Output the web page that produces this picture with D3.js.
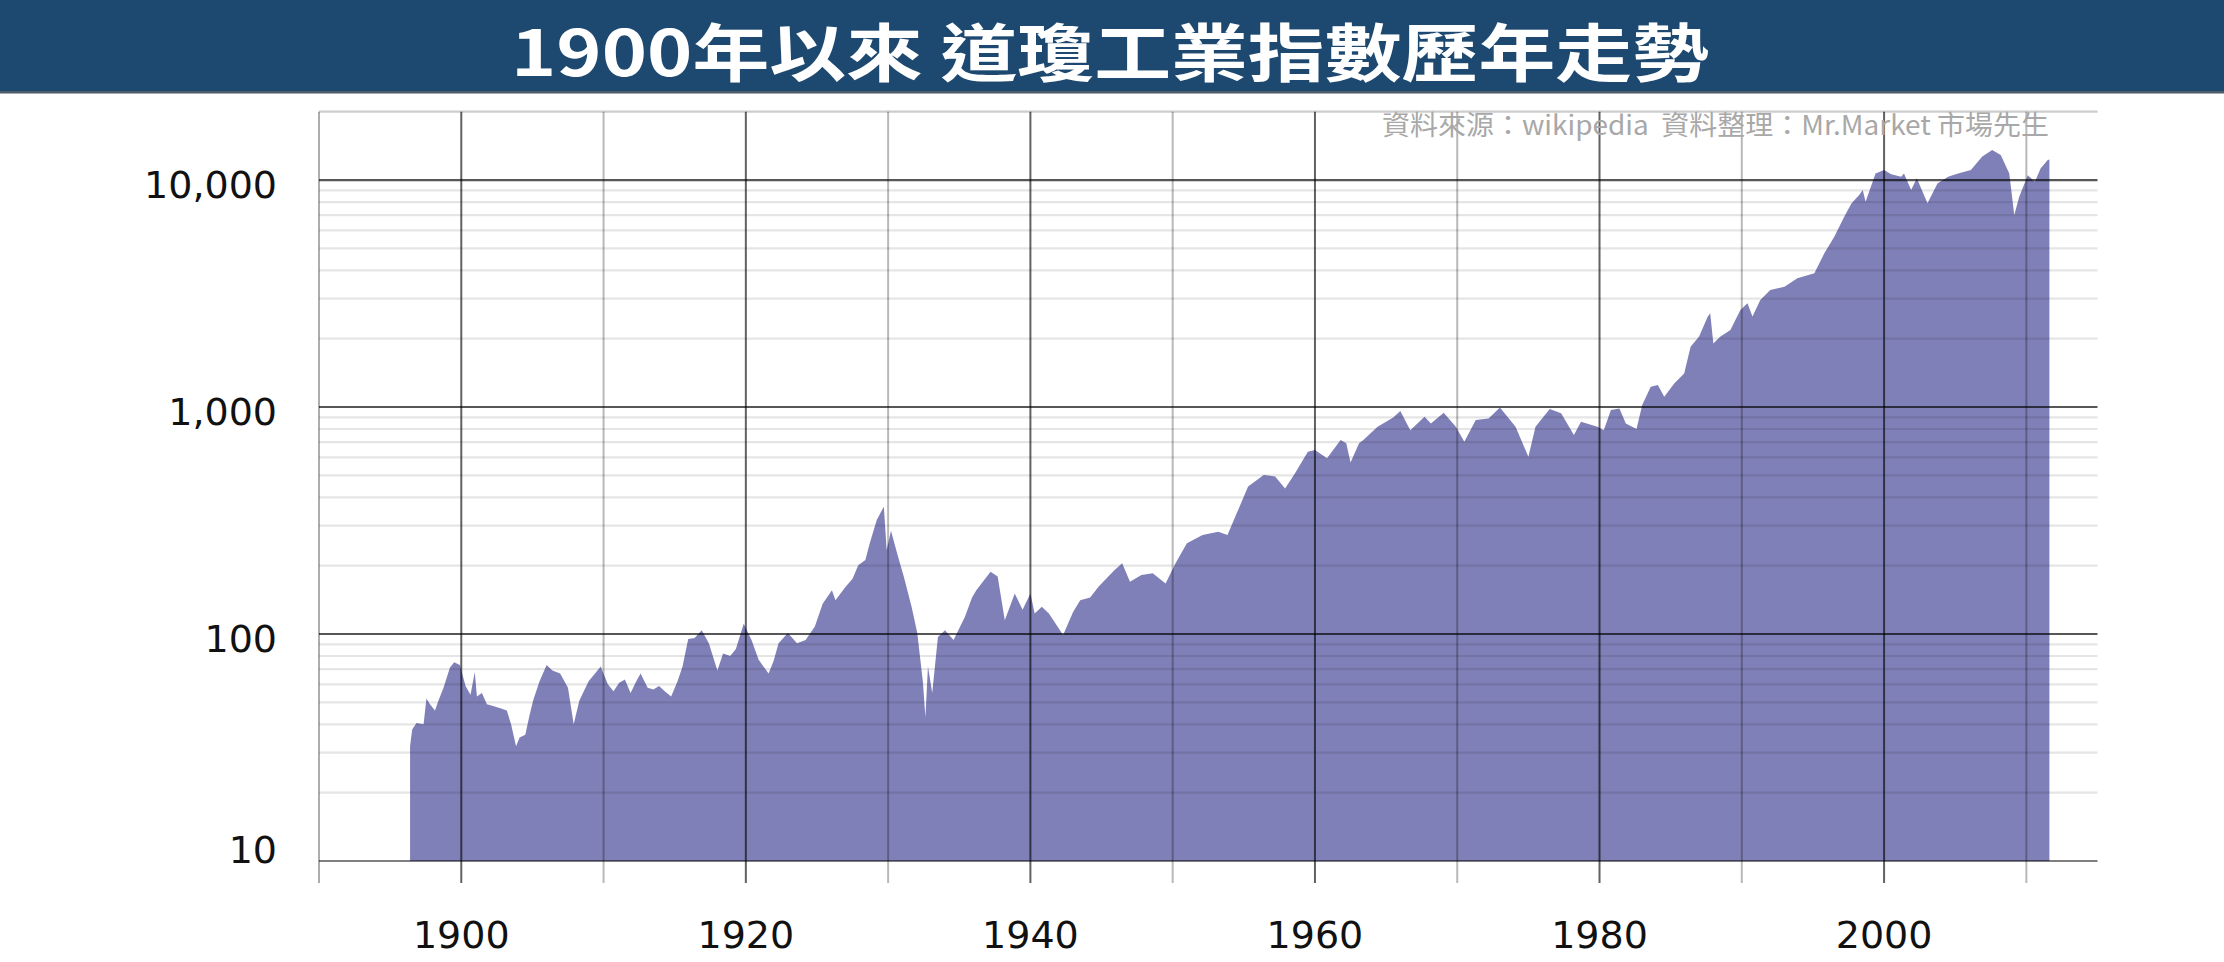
<!DOCTYPE html>
<html>
<head>
<meta charset="utf-8">
<script src="https://cdn.jsdelivr.net/npm/d3@7"></script>
<style>
  html, body { margin: 0; padding: 0; background: #fff; }
  svg { display: block; }
</style>
</head>
<body>
<script>
// ---------------- DATA ----------------
const titleText = "1900年以來 道瓊工業指數歷年走勢";
const sourceText = "資料來源：wikipedia  資料整理：Mr.Market 市場先生";

const years = [
  1896.40, 1896.55, 1896.85, 1897.35, 1897.55, 1897.80, 1898.15, 1898.40, 1898.75, 1899.20,
  1899.50, 1899.90, 1900.30, 1900.65, 1900.95, 1901.10, 1901.45, 1901.80, 1902.30, 1902.80,
  1903.20, 1903.50, 1903.85, 1904.10, 1904.50, 1904.80, 1905.05, 1905.50, 1906.00, 1906.40,
  1906.95, 1907.50, 1907.90, 1908.30, 1908.95, 1909.40, 1909.80, 1910.30, 1910.70, 1911.10,
  1911.50, 1911.90, 1912.30, 1912.60, 1913.10, 1913.50, 1913.90, 1914.30, 1914.75, 1915.20,
  1915.55, 1915.95, 1916.40, 1916.90, 1917.40, 1918.00, 1918.40, 1918.90, 1919.30, 1919.85,
  1920.40, 1920.90, 1921.60, 1921.95, 1922.30, 1922.95, 1923.60, 1924.20, 1924.85, 1925.40,
  1926.05, 1926.30, 1927.00, 1927.50, 1927.90, 1928.40, 1928.70, 1929.20, 1929.70, 1929.90,
  1930.20, 1930.70, 1931.10, 1931.65, 1932.05, 1932.45, 1932.62, 1932.80, 1933.10, 1933.50,
  1934.00, 1934.60, 1935.40, 1935.90, 1936.20, 1937.20, 1937.70, 1938.20, 1938.90, 1939.45,
  1940.00, 1940.30, 1940.80, 1941.30, 1942.30, 1943.00, 1943.50, 1944.20, 1944.80, 1945.90,
  1946.45, 1947.00, 1947.80, 1948.60, 1949.50, 1950.20, 1951.00, 1952.10, 1953.20, 1953.85,
  1954.50, 1955.30, 1956.40, 1957.20, 1957.90, 1958.60, 1959.50, 1960.00, 1960.85, 1961.80,
  1962.20, 1962.50, 1963.10, 1963.40, 1964.40, 1965.50, 1966.00, 1966.70, 1967.70, 1968.15,
  1969.05, 1969.90, 1970.50, 1971.30, 1972.20, 1973.00, 1974.10, 1975.00, 1975.50, 1976.50,
  1977.30, 1978.20, 1978.70, 1979.85, 1980.30, 1980.80, 1981.40, 1981.85, 1982.60, 1983.00,
  1983.60, 1984.10, 1984.55, 1985.25, 1985.95, 1986.40, 1987.00, 1987.60, 1987.78, 1988.00,
  1988.50, 1989.20, 1989.90, 1990.40, 1990.75, 1991.30, 1992.00, 1993.00, 1993.90, 1995.10,
  1995.80, 1996.50, 1997.20, 1997.70, 1998.25, 1998.50, 1998.70, 1999.40, 2000.00, 2000.50,
  2001.20, 2001.40, 2001.90, 2002.30, 2003.05, 2003.75, 2004.50, 2005.20, 2006.10, 2006.90,
  2007.60, 2008.20, 2008.80, 2009.15, 2009.50, 2010.10, 2010.60, 2011.00, 2011.50, 2011.62
];

const dowValues = [
  32, 38, 40.5, 40, 52, 49, 46, 51, 58, 71,
  75, 73, 59, 54, 68, 53, 55, 49, 48, 47,
  46, 40, 32, 35, 36, 44, 51, 62, 73, 69,
  67, 58, 40, 51, 62, 67, 72, 60, 56, 61,
  63, 55, 62, 67, 58, 57, 59, 56, 53, 62,
  72, 95, 96, 104, 91, 69, 82, 80, 86, 111,
  94, 77, 67, 76, 91, 101, 91, 94, 108, 136,
  156, 141, 161, 175, 201, 212, 250, 318, 364, 234,
  285, 219, 179, 132, 101, 61, 43, 72, 55, 97,
  104, 94, 119, 145, 156, 188, 179, 115, 151, 128,
  151, 123, 132, 123, 99, 125, 141, 145, 162, 191,
  205, 170, 182, 185, 167, 205, 251, 273, 282, 273,
  340, 446, 502, 494, 438, 511, 636, 647, 594, 716,
  692, 570, 692, 716, 819, 900, 960, 791, 906, 847,
  944, 819, 703, 876, 891, 996, 819, 604, 819, 980,
  938, 752, 861, 818, 790, 970, 986, 847, 800, 1021,
  1228, 1250, 1110, 1271, 1406, 1845, 2043, 2500, 2590, 1907,
  2043, 2183, 2675, 2862, 2502, 2960, 3275, 3388, 3690, 3882,
  4755, 5630, 6890, 7890, 8590, 9040, 8020, 10690, 11060, 10600,
  10330, 10690, 9040, 10170, 7900, 9660, 10340, 10690, 11060, 12680,
  13560, 12880, 10690, 7010, 8440, 10510, 9820, 11250, 12250, 12300
];

const yTickValues = [10, 100, 1000, 10000];
const yTickLabels = ["10", "100", "1,000", "10,000"];
const xGridYears = [1890, 1900, 1910, 1920, 1930, 1940, 1950, 1960, 1970, 1980, 1990, 2000, 2010];
const xTickLabels = ["1900", "1920", "1940", "1960", "1980", "2000"];

// ---------------- LAYOUT ----------------
const W = 2224, H = 962;
const plotLeft = 319, plotRight = 2097.5;
const yTop = 111.7, yBottom = 861;
const tickBottom = 883;

const svg = d3.select("body").append("svg")
  .attr("width", W).attr("height", H)
  .attr("viewBox", `0 0 ${W} ${H}`);

svg.append("rect").attr("width", W).attr("height", H).attr("fill", "#fff");

// Title bar
svg.append("rect").attr("x", 0).attr("y", 0).attr("width", W).attr("height", 91)
  .attr("fill", "#1d4870");
svg.append("rect").attr("x", 0).attr("y", 91).attr("width", W).attr("height", 2.5)
  .attr("fill", "#4d5b6b");
svg.append("text")
  .attr("x", 1110).attr("y", 76)
  .attr("text-anchor", "middle")
  .attr("font-family", "'Noto Sans CJK TC', 'Noto Sans CJK SC', sans-serif")
  .attr("font-weight", 700)
  .attr("font-size", 63)
  .attr("fill", "#ffffff")
  .attr("textLength", 1198)
  .attr("lengthAdjust", "spacingAndGlyphs")
  .text(titleText);

// Scales
const x = d3.scaleLinear().domain([1890, 2015]).range([plotLeft, plotRight]);
const y = d3.scaleLog().domain([10, 20000]).range([yBottom, yTop]);

const data = years.map((yr, i) => ({ yr, v: dowValues[i] }));

// Minor gridlines (2..9 per decade, plus top)
const minorVals = [];
[10, 100, 1000, 10000].forEach(d => {
  for (let m = 2; m <= 9; m++) { const v = d * m; if (v <= 20000) minorVals.push(v); }
});
minorVals.push(20000);

// Area
const area = d3.area()
  .x(d => x(d.yr))
  .y0(y(10))
  .y1(d => y(d.v))
  .curve(d3.curveLinear);

svg.append("path")
  .datum(data)
  .attr("d", area)
  .attr("fill", "#8080b8");

const grid = svg.append("g");

grid.selectAll("line.minor").data(minorVals).join("line")
  .attr("class", "minor")
  .attr("x1", plotLeft).attr("x2", plotRight)
  .attr("y1", d => y(d)).attr("y2", d => y(d))
  .attr("stroke", "#000").attr("stroke-opacity", 0.1).attr("stroke-width", 2.2);

// Vertical gridlines
grid.selectAll("line.vgrid").data(xGridYears).join("line")
  .attr("class", "vgrid")
  .attr("x1", d => x(d)).attr("x2", d => x(d))
  .attr("y1", yTop).attr("y2", tickBottom)
  .attr("stroke", "#000")
  .attr("stroke-opacity", d => d === 1890 ? 0.32 : ((d - 1900) % 20 === 0 ? 0.62 : 0.28))
  .attr("stroke-width", 2);

// Major horizontal gridlines
grid.selectAll("line.major").data(yTickValues).join("line")
  .attr("class", "major")
  .attr("x1", plotLeft).attr("x2", plotRight)
  .attr("y1", d => y(d)).attr("y2", d => y(d))
  .attr("stroke", "#000")
  .attr("stroke-opacity", d => d === 10 ? 0.5 : 0.66)
  .attr("stroke-width", 2.2);

// Y labels
svg.append("g").selectAll("text").data(yTickValues).join("text")
  .attr("x", 277)
  .attr("y", d => Math.min(y(d) + 18, yBottom + 2))
  .attr("text-anchor", "end")
  .attr("font-family", "'DejaVu Sans', sans-serif")
  .attr("font-size", 38)
  .attr("fill", "#111")
  .text((d, i) => yTickLabels[i]);

// X labels
svg.append("g").selectAll("text").data(xTickLabels).join("text")
  .attr("x", d => x(+d))
  .attr("y", 948)
  .attr("text-anchor", "middle")
  .attr("font-family", "'DejaVu Sans', sans-serif")
  .attr("font-size", 38)
  .attr("fill", "#111")
  .text(d => d);

// Source text
svg.append("text")
  .attr("x", 2049).attr("y", 135)
  .attr("text-anchor", "end")
  .attr("xml:space", "preserve")
  .style("white-space", "pre")
  .attr("font-family", "'Noto Sans CJK TC', 'Noto Sans CJK SC', sans-serif")
  .attr("font-weight", 400)
  .attr("font-size", 27)
  .attr("fill", "#a8a8a8")
  .attr("textLength", 667)
  .attr("lengthAdjust", "spacingAndGlyphs")
  .text(sourceText);
</script>
</body>
</html>
